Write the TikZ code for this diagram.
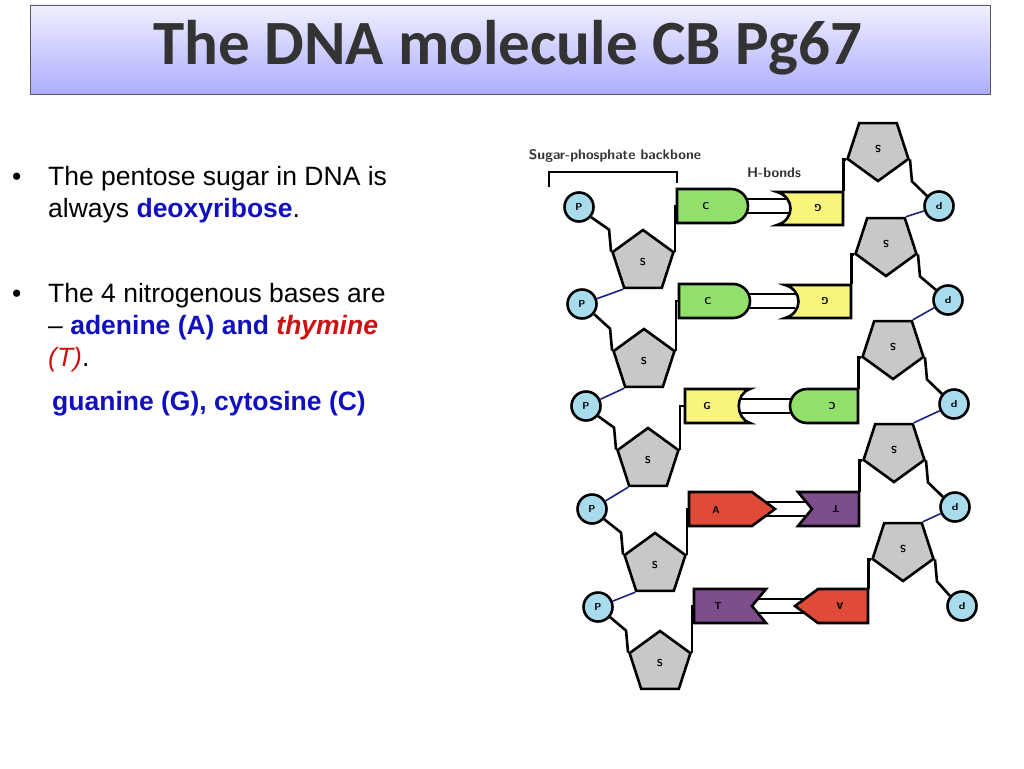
\documentclass[tikz,border=0pt]{standalone}
\usepackage{fontspec}
\setmainfont{Liberation Sans}
\newfontfamily\titlefont{Carlito}
\usetikzlibrary{shapes.geometric,calc}
\definecolor{cgreen}{HTML}{92E06C}
\definecolor{cyellow}{HTML}{F8F47C}
\definecolor{cred}{HTML}{E04A38}
\definecolor{cpurple}{HTML}{7E4E8C}
\definecolor{cgray}{HTML}{C8C8C8}
\definecolor{cblue}{HTML}{A8DCEC}
\definecolor{lnblue}{HTML}{1A237E}
\definecolor{txtblue}{HTML}{1010C0}
\definecolor{txtred}{HTML}{D01010}
\begin{document}
\begin{tikzpicture}[x=1pt,y=-1pt,
  sug/.style={regular polygon,regular polygon sides=5,minimum size=64pt,inner sep=0pt,fill=cgray,draw=black,line width=2.6pt,font=\sffamily\bfseries\fontsize{10}{10}\selectfont},
  pc/.style={circle,minimum size=29pt,inner sep=0pt,fill=cblue,draw=black,line width=2.6pt,font=\sffamily\bfseries\fontsize{10}{10}\selectfont},
  bb/.style={minimum height=34pt,inner sep=0pt},
  blab/.style={font=\sffamily\bfseries\fontsize{10}{10}\selectfont},
  shp/.style={draw=black,line width=2.6pt},
  bl/.style={line width=2.6pt},
  bll/.style={line width=1.6pt,draw=lnblue},
  body/.style={font=\fontsize{26.5}{32}\selectfont,anchor=base west,inner sep=0pt}]
\useasboundingbox (0,0) rectangle (1024,768);
% title
\shade[top color=blue!6!white,bottom color=blue!32!white] (30,5) rectangle (990,94);
\draw[gray!70!black,line width=0.8pt] (30,5) rectangle (990,94);
\node[font=\titlefont\bfseries\fontsize{63}{63}\selectfont,text=black!80] (title) at (508,48) {The DNA molecule CB Pg67};
% bullets
\node[body] (u1) at (12,185) {•};
\node[body] (t1a) at (48,185) {The pentose sugar in DNA is};
\node[body] (t1b) at (48,217) {always \textcolor{txtblue}{\textbf{deoxyribose}}.};
\node[body] (u2) at (12,302) {•};
\node[body] (t2a) at (48,302) {The 4 nitrogenous bases are};
\node[body] (t2b) at (48,334) {– \textcolor{txtblue}{\textbf{adenine (A) and}} \textcolor{txtred}{\textbf{\textit{thymine}}}};
\node[body] (t2c) at (48,366) {\textcolor{txtred}{\textit{(T)}}.};
\node[body,text=txtblue,font=\bfseries\fontsize{26.5}{32}\selectfont] (t3) at (52,410) {guanine (G), cytosine (C)};
% labels
\node[font=\sffamily\bfseries\fontsize{14}{14}\selectfont,text=black!80] (spb) at (615,156) {Sugar-phosphate backbone};
\coordinate (br1) at (549,187); \coordinate (br2) at (677,183);
\draw[line width=2.6pt] (br1) |- (613,172) -| (br2);
\node[font=\sffamily\bfseries\fontsize{14}{14}\selectfont,text=black!80] (hb) at (774,173) {H-bonds};
% H-bonds (drawn first)
\foreach \y/\a/\b in {206/735/790, 301/738/795, 406/690/800, 509/765/812, 606/750/812}{
  \fill[white] (\a,\y-7) rectangle (\b,\y+7);
  \draw[line width=2pt] (\a,\y-7) -- (\b,\y-7) (\a,\y+7) -- (\b,\y+7);}
% row1
\fill[cgreen,shp] (677,189) -- (731,189) arc[start angle=-90,end angle=90,radius=17] -- (677,223) -- cycle;
\fill[cyellow,shp] (843,192) -- (843,225) -- (777,225) .. controls (795,220) and (795,197) .. (777,192) -- cycle;
\node[bb,minimum width=71pt] (b1l) at (712.5,206) {}; \node[blab] at (706,206) {C};
\node[bb,minimum width=66pt] (b1r) at (810,208.5) {}; \node[blab,rotate=180] at (818,208) {G};
% row2
\fill[cgreen,shp] (679,284) -- (733,284) arc[start angle=-90,end angle=90,radius=17] -- (679,318) -- cycle;
\fill[cyellow,shp] (851,285) -- (851,318) -- (785,318) .. controls (803,313) and (803,290) .. (785,285) -- cycle;
\node[bb,minimum width=71pt] (b2l) at (714.5,301) {}; \node[blab] at (708,301) {C};
\node[bb,minimum width=66pt] (b2r) at (818,301.5) {}; \node[blab,rotate=180] at (825,301) {G};
% row3
\fill[cyellow,shp] (685,389) -- (750,389) .. controls (735,394) and (735,418) .. (750,423) -- (685,423) -- cycle;
\fill[cgreen,shp] (858,389) -- (807,389) arc[start angle=-90,end angle=-270,radius=17] -- (858,423) -- cycle;
\node[bb,minimum width=65pt] (b3l) at (717.5,406) {}; \node[blab] at (707,406) {G};
\node[bb,minimum width=68pt] (b3r) at (824,406) {}; \node[blab,rotate=180] at (832,406) {C};
% row4
\fill[cred,shp] (689,492) -- (752,492) -- (775,509) -- (752,526) -- (689,526) -- cycle;
\fill[cpurple,shp] (859,492) -- (859,526) -- (798,526) -- (812,509) -- (798,492) -- cycle;
\node[bb,minimum width=86pt] (b4l) at (732,509) {}; \node[blab] at (716,510) {A};
\node[bb,minimum width=61pt] (b4r) at (828.5,509) {}; \node[blab,rotate=180] at (836,509) {T};
% row5
\fill[cpurple,shp] (694,589) -- (766,589) -- (752,606) -- (766,623) -- (694,623) -- cycle;
\fill[cred,shp] (868,589) -- (868,623) -- (818,623) -- (795,606) -- (818,589) -- cycle;
\node[bb,minimum width=72pt] (b5l) at (730,606) {}; \node[blab] at (718,606) {T};
\node[bb,minimum width=73pt] (b5r) at (831.5,606) {}; \node[blab,rotate=180] at (840,606) {A};
% left strand
\foreach \i/\px/\py/\sx/\sy in {1/579/207/643/262, 2/582/304/644/361, 3/586/406/648/460, 4/592/509/655/565, 5/598/607/660/663}{
  \node[sug] (s\i) at (\sx,\sy) {S};
  \node[pc] (p\i) at (\px,\py) {P};}
\foreach \i in {1,...,5}{
  \draw[bl] (p\i.-40) -- ($(s\i.corner 2)+(-2,-22)$) -- (s\i.corner 2);
  \draw[bl] (s\i.corner 5) |- (b\i l.west);}
\foreach \i/\j in {1/2,2/3,3/4,4/5}{\draw[bll] (s\i.corner 3) -- (p\j);}
% right strand
\foreach \i/\dx/\dy/\sx/\sy in {1/939/206/878/149, 2/948/300/886/244, 3/954/404/893/347, 4/955/507/894/450, 5/962/606/903/549}{
  \node[sug,rotate=180] (r\i) at (\sx,\sy) {S};
  \node[pc,rotate=180] (d\i) at (\dx,\dy) {P};}
\foreach \i in {1,...,5}{
  \draw[bl] (b\i r.north east) |- (r\i.corner 5);
  \draw[bl] (r\i.corner 2) -- ($(r\i.corner 2)+(2,22)$) -- (d\i.-40);}
\foreach \i/\j in {1/2,2/3,3/4,4/5}{\draw[bll] (r\j.corner 3) -- (d\i);}
\end{tikzpicture}
\end{document}
